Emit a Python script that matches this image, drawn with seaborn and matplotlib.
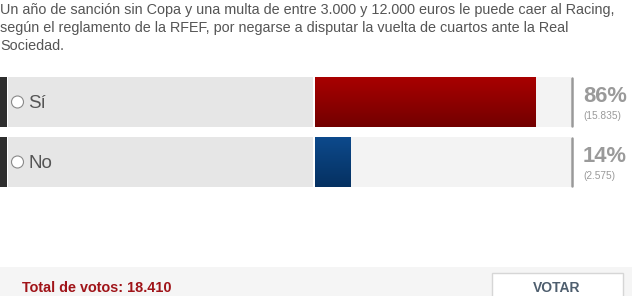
import numpy as np
import pandas as pd
import matplotlib
matplotlib.use("Agg")
import matplotlib.pyplot as plt
from matplotlib.patches import Rectangle, Ellipse
import seaborn as sns

# ---- data ----
question_lines = [
    "Un año de sanción sin Copa y una multa de entre 3.000 y 12.000 euros le puede caer al Racing,",
    "según el reglamento de la RFEF, por negarse a disputar la vuelta de cuartos ante la Real",
    "Sociedad.",
]
options = ["Sí", "No"]
percents = [86, 14]
votes = [15835, 2575]
total_votes = 18410
full_scale = [100, 100]
button_label = "VOTAR"

sns.set_theme(style="white")
plt.rcParams["font.family"] = ["Liberation Sans", "DejaVu Sans"]

W, H = 632, 296
fig = plt.figure(figsize=(W / 100, H / 100), dpi=100)
fig.patch.set_facecolor("white")


def fx(x):
    return x / W


def fy(y):
    return 1 - y / H


def rect(x0, y0, x1, y1, **kw):
    fig.patches.append(Rectangle((fx(x0), fy(y1)), fx(x1 - x0), (y1 - y0) / H,
                                 transform=fig.transFigure, figure=fig, **kw))


def fmt(n):
    return f"{n:,}".replace(",", ".")


# question text
for i, line in enumerate(question_lines):
    fig.text(fx(0), fy(14 + 18 * i), line, fontsize=10.4, color="#555555", va="baseline", ha="left")

# rows geometry (pixels)
row_top = [77, 137]
row_h = 50
bar_x0, bar_x1 = 315, 571

for i, opt in enumerate(options):
    t = row_top[i]
    b = t + row_h
    rect(0, t, 7, b, facecolor="#2e2e2e", edgecolor="none")
    rect(8, t, 313, b, facecolor="#e6e6e6", edgecolor="none")
    # radio circle
    fig.patches.append(Ellipse((fx(17.5), fy(t + 25)), 12 / W, 12 / H, transform=fig.transFigure,
                               figure=fig, facecolor="white", edgecolor="#8a8a8a", linewidth=0.8))
    fig.text(fx(28), fy(t + 31), opt, fontsize=13.5, color="#555555", va="baseline", ha="left")
    # separator
    fig.lines.append(plt.Line2D([fx(572), fx(572)], [fy(t + 1), fy(b - 1)], transform=fig.transFigure,
                                color="#999999", linewidth=1.8))
    fig.text(fx(583), fy(t + 25), f"{percents[i]}%", fontsize=15.8, fontweight="bold",
             color="#9a9a9a", va="baseline", ha="left")
    fig.text(fx(583), fy(t + 42), f"({fmt(votes[i])})", fontsize=7.3, color="#9a9a9a",
             va="baseline", ha="left")

# bar axes via seaborn
pitch = row_top[1] - row_top[0]
ay0 = row_top[0] + row_h / 2 - pitch / 2
ay1 = row_top[1] + row_h / 2 + pitch / 2
ax = fig.add_axes([fx(bar_x0), fy(ay1), fx(bar_x1 - bar_x0), (ay1 - ay0) / H])
df = pd.DataFrame({"option": options, "percent": percents, "full": full_scale})
bw = row_h / pitch
sns.barplot(data=df, y="option", x="full", color="#f3f3f3", width=bw, ax=ax,
            saturation=1, edgecolor="none", order=options)
n_bg = len(ax.patches)
sns.barplot(data=df, y="option", x="percent", hue="option", palette=["#990000", "#0b3f7c"],
            width=bw, ax=ax, saturation=1, edgecolor="none", legend=False, order=options)
ax.set_xlim(0, 100)
ax.set_ylim(len(options) - 0.5, -0.5)
ax.axis("off")

# vertical gradients on the value bars
grads = [((0.66, 0.0, 0.0), (0.45, 0.0, 0.0)), ((0.05, 0.29, 0.55), (0.02, 0.19, 0.38))]
for j, p in enumerate(ax.patches[n_bg:]):
    top, bot = grads[j]
    g = np.linspace(0, 1, 64)[:, None]
    img = np.zeros((64, 2, 3))
    for c in range(3):
        img[:, :, c] = top[c] + (bot[c] - top[c]) * g
    x0, y0 = p.get_x(), p.get_y()
    w, h = p.get_width(), p.get_height()
    im = ax.imshow(img, extent=[x0, x0 + w, y0 + h, y0], aspect="auto", zorder=3,
                   interpolation="bilinear")
    im.set_clip_path(p)
ax.set_xlim(0, 100)
ax.set_ylim(len(options) - 0.5, -0.5)

# footer
rect(0, 267, 632, 296, facecolor="#f5f5f5", edgecolor="none")
fig.text(fx(22), fy(292), f"Total de votos: {fmt(total_votes)}", fontsize=10.4, fontweight="bold",
         color="#a01419", va="baseline", ha="left")
rect(492, 273, 623, 297, facecolor="white", edgecolor="#d6d6d6", linewidth=1)
fig.text(fx(557), fy(292), button_label, fontsize=10, fontweight="bold", color="#4e5e6e",
         va="baseline", ha="center")

fig.savefig("out.png", dpi=100)
